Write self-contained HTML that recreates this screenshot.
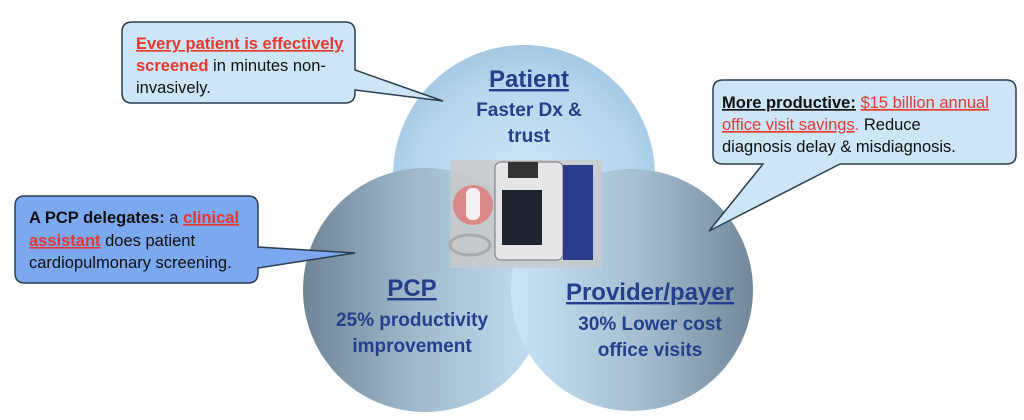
<!DOCTYPE html>
<html><head><style>body{margin:0;background:#fff}svg{display:block}</style></head><body>
<svg width="1024" height="420" viewBox="0 0 1024 420" xmlns="http://www.w3.org/2000/svg" font-family="'Liberation Sans',sans-serif">
<defs>
<radialGradient id="gt" cx="0.5" cy="0.55" r="0.6"><stop offset="0" stop-color="#cfe6f7"/><stop offset="0.7" stop-color="#b5d6ee"/><stop offset="1" stop-color="#9ec3df"/></radialGradient>
<linearGradient id="gl" x1="0" y1="0" x2="1" y2="0"><stop offset="0" stop-color="#6f8596"/><stop offset="0.45" stop-color="#9fb8cc"/><stop offset="1" stop-color="#c5e2f5"/></linearGradient>
<linearGradient id="gr" x1="0" y1="0" x2="1" y2="0"><stop offset="0" stop-color="#c8e5f7"/><stop offset="0.55" stop-color="#a3bccf"/><stop offset="1" stop-color="#72889a"/></linearGradient>
</defs>
<circle cx="524" cy="176" r="131" fill="url(#gt)"/>
<circle cx="425" cy="290" r="122" fill="url(#gl)"/>
<circle cx="632" cy="290" r="121" fill="url(#gr)"/>
<!-- device image -->
<rect x="450" y="160" width="152" height="108" fill="#c9c9c9" opacity="0.8"/>
<rect x="495" y="162" width="68" height="98" rx="6" fill="#e6e6e8" stroke="#777"/>
<rect x="502" y="190" width="40" height="55" fill="#1c2530"/>
<rect x="508" y="162" width="30" height="16" fill="#333"/>
<rect x="563" y="165" width="30" height="95" fill="#2a3d8c"/>
<ellipse cx="473" cy="205" rx="20" ry="20" fill="#d98a88"/>
<rect x="466" y="188" width="14" height="32" rx="6" fill="#f2f2f2"/>
<ellipse cx="470" cy="245" rx="20" ry="10" fill="none" stroke="#aaa" stroke-width="3"/>
<!-- titles -->
<g fill="#243f8c" font-weight="bold" text-anchor="middle">
<text x="529" y="87" font-size="24" text-decoration="underline">Patient</text>
<text x="529" y="116" font-size="19">Faster Dx &amp;</text>
<text x="529" y="142" font-size="19">trust</text>
<text x="412" y="296" font-size="24" text-decoration="underline">PCP</text>
<text x="412" y="326" font-size="19">25% productivity</text>
<text x="412" y="352" font-size="19">improvement</text>
<text x="650" y="300" font-size="24" text-decoration="underline">Provider/payer</text>
<text x="650" y="330" font-size="19">30% Lower cost</text>
<text x="650" y="356" font-size="19">office visits</text>
</g>
<!-- callout top-left -->
<path d="M132 22 H345 Q355 22 355 32 V70 L443 101 L355 90 V93 Q355 103 345 103 H132 Q122 103 122 93 V32 Q122 22 132 22 Z" fill="#cce6f8" stroke="#2c3e50" stroke-width="1.5"/>
<g font-size="16.5">
<text x="136" y="49" fill="#e8382e" font-weight="bold" text-decoration="underline">Every patient is effectively</text>
<text x="136" y="71"><tspan fill="#e8382e" font-weight="bold">screened</tspan><tspan fill="#111">  in minutes non-</tspan></text>
<text x="136" y="93" fill="#111">invasively.</text>
</g>
<!-- callout left -->
<path d="M25 196 H248 Q258 196 258 206 V247 L355 253 L258 268 V273 Q258 283 248 283 H25 Q15 283 15 273 V206 Q15 196 25 196 Z" fill="#7ba8ee" stroke="#2c3e50" stroke-width="1.5"/>
<g font-size="16.5" fill="#111">
<text x="29" y="223"><tspan font-weight="bold">A PCP delegates:</tspan> a <tspan fill="#e8382e" font-weight="bold" text-decoration="underline">clinical</tspan></text>
<text x="29" y="246"><tspan fill="#e8382e" font-weight="bold" text-decoration="underline">assistant</tspan> does patient</text>
<text x="29" y="268">cardiopulmonary screening.</text>
</g>
<!-- callout right -->
<path d="M723 80 H1006 Q1016 80 1016 90 V155 Q1016 164 1006 164 H840 L709 231 L763 164 H723 Q713 164 713 155 V90 Q713 80 723 80 Z" fill="#cce6f8" stroke="#2c3e50" stroke-width="1.5"/>
<g font-size="16.5" fill="#111">
<text x="722" y="108"><tspan font-weight="bold" text-decoration="underline">More productive:</tspan> <tspan fill="#e8382e" text-decoration="underline">$15 billion annual</tspan></text>
<text x="722" y="130"><tspan fill="#e8382e" text-decoration="underline">office visit savings</tspan><tspan fill="#e8382e">.</tspan> Reduce</text>
<text x="722" y="152">diagnosis delay &amp; misdiagnosis.</text>
</g>
</svg>
</body></html>
